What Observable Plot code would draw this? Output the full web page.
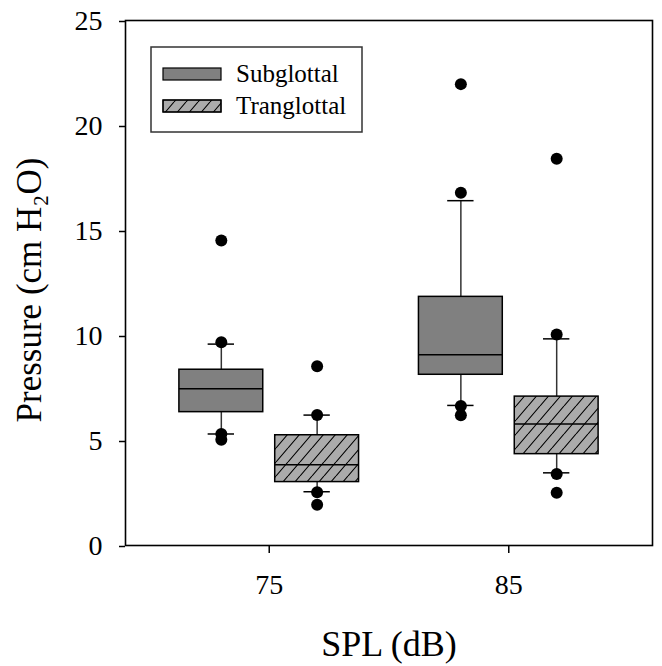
<!DOCTYPE html>
<html>
<head>
<meta charset="utf-8">
<script src="https://cdn.jsdelivr.net/npm/d3@7"></script>
<script src="https://cdn.jsdelivr.net/npm/@observablehq/plot@0.6"></script>
<style>
  body { margin: 0; background: #fff; }
  #wrap { position: relative; width: 662px; height: 666px; }
  #legend { position: absolute; left: 150px; top: 46px; }
</style>
</head>
<body>
<div id="wrap"></div>
<script>
// ---- data ----
const spl = [75, 85];
const groups = ["Subglottal", "Tranglottal"];
const yTicks = [0, 5, 10, 15, 20, 25];

const subQ1  = [6.35, 8.13];
const subMed = [7.47, 9.08];
const subQ3  = [8.37, 11.84];
const subLo  = [5.31, 6.67];
const subHi  = [9.59, 16.42];
const subOut = [[14.52, 9.68, 5.31, 5.04], [21.97, 16.8, 6.64, 6.2]];

const tranQ1  = [3.02, 4.35];
const tranMed = [3.84, 5.78];
const tranQ3  = [5.25, 7.09];
const tranLo  = [2.56, 3.46];
const tranHi  = [6.21, 9.84];
const tranOut = [[8.54, 6.21, 2.54, 1.94], [18.42, 10.05, 3.4, 2.51]];

// ---- layout constants ----
const offset = {Subglottal: -2, Tranglottal: 2};
const boxHalf = 1.75, capHalf = 0.55;
const serif = '"Liberation Serif", "Times New Roman", serif';
const tickFont = 28;

const stats = {
  Subglottal: {q1: subQ1, med: subMed, q3: subQ3, lo: subLo, hi: subHi, out: subOut},
  Tranglottal: {q1: tranQ1, med: tranMed, q3: tranQ3, lo: tranLo, hi: tranHi, out: tranOut}
};
const rows = [];
groups.forEach(g => spl.forEach((s, i) => rows.push({
  group: g, spl: s, x: s + offset[g],
  q1: stats[g].q1[i], med: stats[g].med[i], q3: stats[g].q3[i],
  lo: stats[g].lo[i], hi: stats[g].hi[i], out: stats[g].out[i]
})));
const sub = rows.filter(r => r.group === "Subglottal");
const tran = rows.filter(r => r.group === "Tranglottal");
const outliers = rows.flatMap(r => r.out.map(v => ({x: r.x, y: v})));

// ---- legend + hatch pattern ----
const legend = d3.create("svg").attr("id", "legend").attr("width", 216).attr("height", 90)
  .style("font-family", serif);
const pat = legend.append("defs").append("pattern")
  .attr("id", "hatch").attr("patternUnits", "userSpaceOnUse")
  .attr("width", 12).attr("height", 14);
pat.append("path").attr("d", "M0,14L12,0M-12,14L0,0M12,14L24,0")
  .attr("stroke", "black").attr("stroke-width", 1.1).attr("fill", "none");
legend.append("rect").attr("x", 1).attr("y", 1).attr("width", 211).attr("height", 85)
  .attr("fill", "white").attr("stroke", "#333").attr("stroke-width", 1.5);
groups.forEach((g, i) => {
  const y0 = 22 + i * 32;
  legend.append("rect").attr("x", 13).attr("y", y0).attr("width", 58).attr("height", 12)
    .attr("fill", g === "Subglottal" ? "#808080" : "#ababab").attr("stroke", "black").attr("stroke-width", 1.2);
  if (g === "Tranglottal")
    legend.append("rect").attr("x", 13).attr("y", y0).attr("width", 58).attr("height", 12)
      .attr("fill", "url(#hatch)").attr("stroke", "black").attr("stroke-width", 1.2);
  legend.append("text").attr("x", 86).attr("y", y0 + 14).attr("font-size", 25).attr("fill", "black").text(g);
});

// ---- chart ----
const chart = Plot.plot({
  width: 662, height: 666,
  marginLeft: 125, marginRight: 10, marginTop: 20, marginBottom: 121,
  style: {fontFamily: serif, fontSize: tickFont + "px", background: "white", color: "black", overflow: "visible"},
  x: {domain: [69, 91]},
  y: {domain: [0, 25]},
  marks: [
    // whiskers
    Plot.ruleX(rows, {x: "x", y1: "q3", y2: "hi", stroke: "#333", strokeWidth: 1.5}),
    Plot.ruleX(rows, {x: "x", y1: "lo", y2: "q1", stroke: "#333", strokeWidth: 1.5}),
    Plot.ruleY(rows, {y: "hi", x1: d => d.x - capHalf, x2: d => d.x + capHalf, stroke: "black", strokeWidth: 1.5}),
    Plot.ruleY(rows, {y: "lo", x1: d => d.x - capHalf, x2: d => d.x + capHalf, stroke: "black", strokeWidth: 1.5}),
    // boxes
    Plot.rect(sub, {x1: d => d.x - boxHalf, x2: d => d.x + boxHalf, y1: "q1", y2: "q3", fill: "#808080", stroke: "black", strokeWidth: 1.5}),
    Plot.rect(tran, {x1: d => d.x - boxHalf, x2: d => d.x + boxHalf, y1: "q1", y2: "q3", fill: "#ababab"}),
    Plot.rect(tran, {x1: d => d.x - boxHalf, x2: d => d.x + boxHalf, y1: "q1", y2: "q3", fill: "url(#hatch)", stroke: "black", strokeWidth: 1.5}),
    // medians
    Plot.ruleY(rows, {y: "med", x1: d => d.x - boxHalf, x2: d => d.x + boxHalf, stroke: "black", strokeWidth: 1.5}),
    // outliers
    Plot.dot(outliers, {x: "x", y: "y", r: 6, fill: "black", stroke: null}),
    // axes
    Plot.axisY(yTicks, {tickSize: 6, tickPadding: 17, fontSize: tickFont, label: null, strokeWidth: 1.5, dy: 1}),
    Plot.axisX(spl, {tickSize: 8, tickPadding: 21, fontSize: tickFont, label: null, strokeWidth: 1.5}),
    Plot.frame({stroke: "black", strokeWidth: 1.6}),
    // titles
    Plot.text(["Pressure (cm H\u2082O)"], {text: d => d, frameAnchor: "left", textAnchor: "middle", lineAnchor: "middle", rotate: -90, dx: -96, dy: 7, fontSize: 35, fill: "black"}),
    Plot.text(["SPL (dB)"], {text: d => d, frameAnchor: "bottom", textAnchor: "middle", lineAnchor: "middle", dy: 99, fontSize: 36, fill: "black"})
  ]
});

// make sure tick labels get the intended size
d3.select(chart).selectAll('g[aria-label$="tick label"]')
  .attr("font-size", tickFont).style("font-size", tickFont + "px")
  .selectAll("text").style("font-size", tickFont + "px");

const wrap = document.getElementById("wrap");
wrap.appendChild(chart);
wrap.appendChild(legend.node());
</script>
</body>
</html>
